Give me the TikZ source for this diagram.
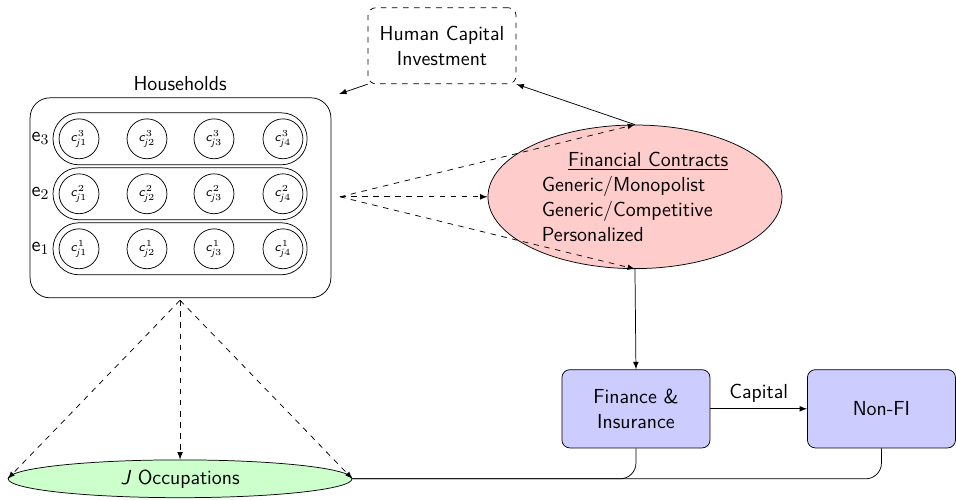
\documentclass[tikz,border=0pt]{standalone}
\usetikzlibrary{arrows,shapes.geometric}
\DeclareMathAlphabet{\mathsfit}{OT1}{cmss}{m}{sl}
\newcommand{\cj}[2]{$\mathsfit{c}^{#1}_{\mathsfit{j}#2}$}

\begin{document}
\begin{tikzpicture}[>=latex,
   every node/.style={font=\sffamily\fontsize{11}{13.5}\selectfont},
   hhbox/.style={draw,rounded corners=0.38cm,minimum width=5.73cm,minimum height=3.81cm},
   hhrow/.style={draw,rounded corners=0.49cm,minimum width=4.84cm,minimum height=0.99cm},
   agent/.style={draw,circle,minimum size=0.76cm,inner sep=0pt,font=\scriptsize},
   firm/.style={draw,rounded corners=0.15cm,fill=blue!20,minimum width=2.82cm,minimum height=1.49cm,align=center}]
   \useasboundingbox (0,0) rectangle (18.21,9.52);
   % households and their skill rows
   \node[hhbox] (hh) at (3.438,5.752) {};
   \node[anchor=south] (hhlab) at (3.43,7.66) {Households};
   \node[hhrow] (r3) at (3.43,6.876) {};
   \node[hhrow] (r2) at (3.43,5.829) {};
   \node[hhrow] (r1) at (3.43,4.781) {};
   \node (e3) at (0.77,6.876) {$\mathsf{e}_3$};
   \node (e2) at (0.77,5.829) {$\mathsf{e}_2$};
   \node (e1) at (0.77,4.781) {$\mathsf{e}_1$};
   \foreach \e/\y in {3/6.876,2/5.829,1/4.781}
    \foreach \j/\x in {1/1.505,2/2.80,3/4.076,4/5.39}
     \node[agent] (c\e\j) at (\x,\y) {\cj{\e}{\j}};
   % contracts and human capital
   \node[draw,ellipse,fill=red!20,minimum width=5.6cm,minimum height=2.69cm,align=left] (fc) at (12.095,5.771)
     {\hspace*{0.5cm}\underline{Financial Contracts}\\Generic/Monopolist\\Generic/Competitive\\Personalized};
   \node[draw,dashed,rounded corners=0.15cm,minimum width=2.82cm,minimum height=1.45cm,align=center] (hc) at (8.42,8.648)
     {Human Capital\\Investment};
   \coordinate (hhsrc) at (6.476,5.771);
   \coordinate (hhtop) at (6.46,7.73);
   \draw[->,dashed] (hhsrc) -- (fc.north);
   \draw[->,dashed] (hhsrc) -- (fc.west);
   \draw[->,dashed] (hhsrc) -- (fc.south);
   \draw[->] (fc.north) -- (hc.south east);
   \draw[->] (hc.south west) -- (hhtop);
   % firms
   \node[firm] (fin) at (12.114,1.733) {Finance \&\\Insurance};
   \node[firm] (nfi) at (16.79,1.733) {Non-FI};
   \draw[->] (fc.south) -- (fin.north);
   \draw[->] (fin.east) -- node[above] {Capital} (nfi.west);
   % occupations
   \node[draw,ellipse,fill=green!20,minimum width=6.55cm,minimum height=0.72cm,inner sep=0pt] (occ) at (3.43,0.4)
     {\textsl{J} Occupations};
   \coordinate (hhbot) at (3.43,3.80);
   \draw[->,dashed] (hhbot) -- (occ.west);
   \draw[->,dashed] (hhbot) -- (occ.north);
   \draw[->,dashed] (hhbot) -- (occ.east);
   \draw[rounded corners=0.3cm] (fin.south) |- (occ.east);
   \draw[rounded corners=0.3cm] (nfi.south) |- (occ.east);
\end{tikzpicture}
\end{document}
